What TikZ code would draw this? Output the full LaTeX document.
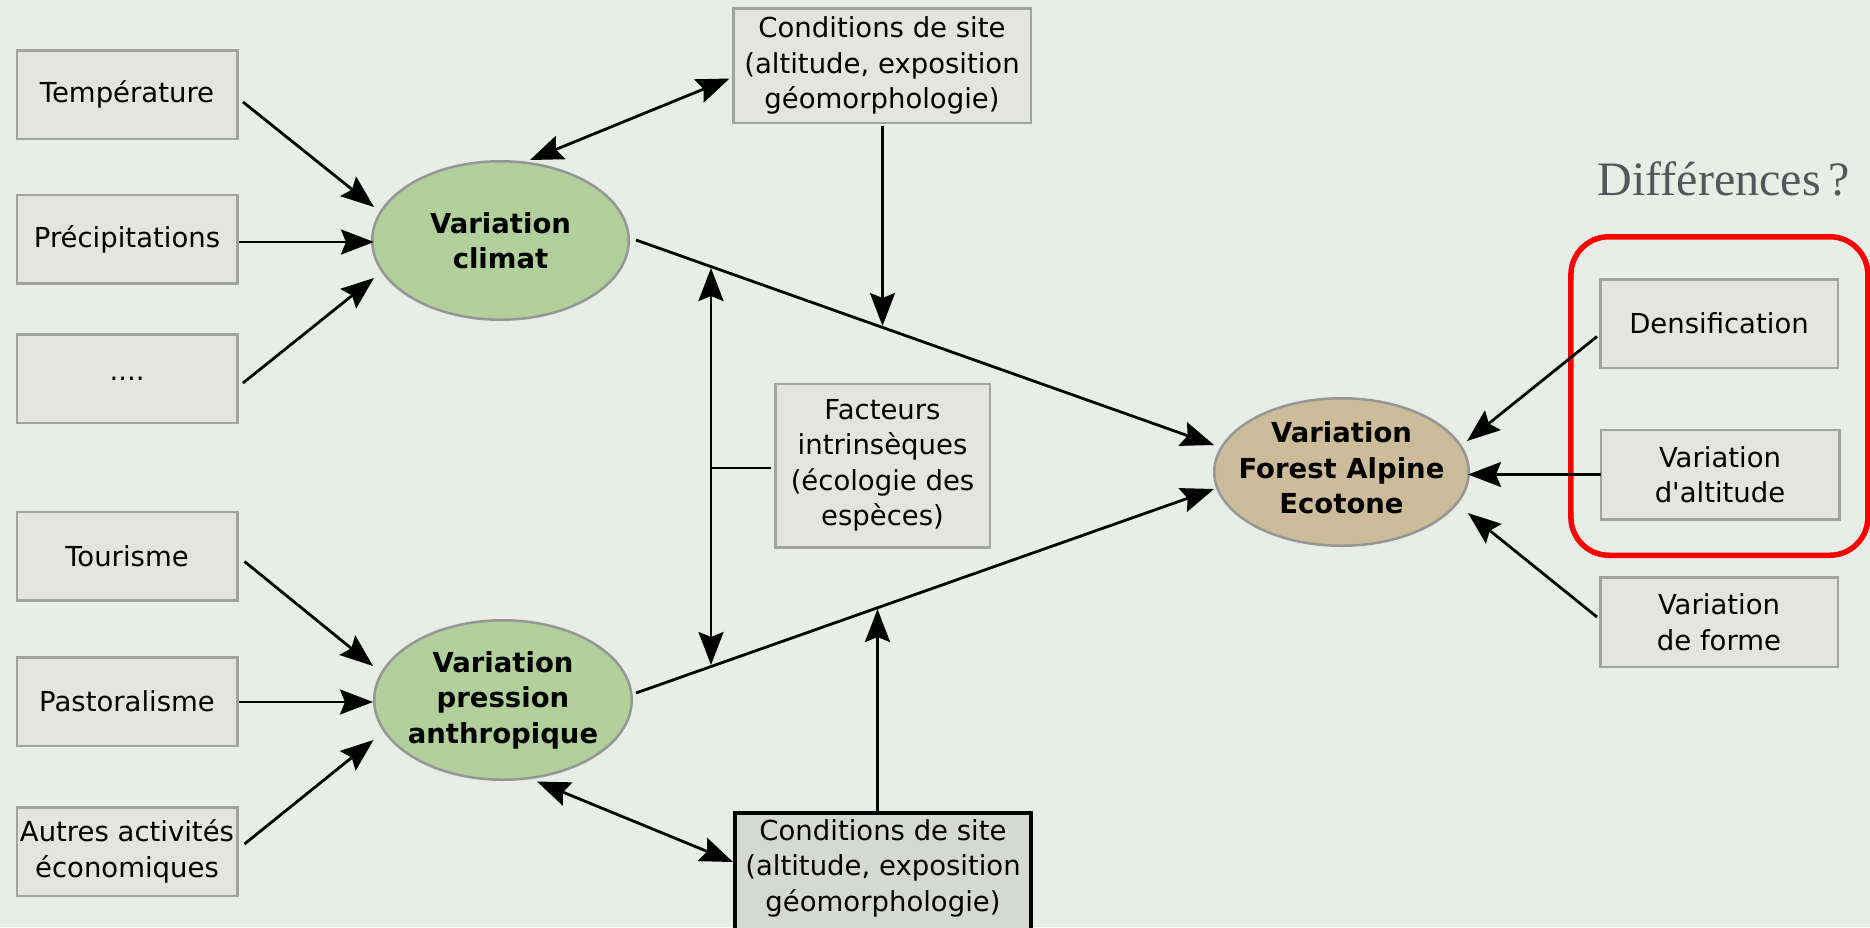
\documentclass[tikz,border=0pt]{standalone}
\usepackage{fontspec}
\setmainfont{DejaVu Sans}[Ligatures=TeXOff]
\newfontfamily\diffont{Liberation Serif}
\usetikzlibrary{arrows.meta,calc,shapes.geometric}
\definecolor{bg}{RGB}{232,237,231}
\definecolor{boxfill}{RGB}{228,229,224}
\definecolor{boxline}{RGB}{162,162,162}
\definecolor{greenfill}{RGB}{177,208,156}
\definecolor{tanfill}{RGB}{205,188,154}
\definecolor{ellline}{RGB}{150,150,150}
\definecolor{difftext}{RGB}{85,85,90}
\definecolor{darkbox}{RGB}{214,216,212}
\definecolor{framered}{RGB}{255,0,0}
\begin{document}
\begin{tikzpicture}[x=1pt,y=-1pt,
  every node/.style={font=\fontsize{27.5}{35.5}\selectfont, align=center, inner sep=0pt},
  box/.style={rectangle, draw=boxline, fill=boxfill, line width=2.5pt, minimum width=220.5pt, minimum height=88.5pt},
  ell/.style={ellipse, draw=ellline, line width=2.5pt},
  elltext/.style={font=\fontsize{27.5}{35.5}\selectfont\bfseries},
  tip/.tip={Stealth[length=33pt,width=25pt,inset=5pt]},
  arr/.style={-tip, line width=2.8pt},
  darr/.style={tip-tip, line width=2.8pt},
  plain/.style={line width=2.8pt},
]
\fill[bg] (0,0) rectangle (1870,927);
\useasboundingbox (0,0) rectangle (1870,927);

% frame
\node[draw=framered, line width=5.5pt, rounded corners=38pt, minimum width=297pt, minimum height=318.5pt] (frame) at (1719.4,396) {};
\node[font=\diffont\fontsize{48}{58}\selectfont, text=difftext] (diff) at (1724,179) {Différences\,?};

% left boxes
\node[box] (temp) at (127,94.5) {Température};
\node[box] (prec) at (127,239) {Précipitations};
\node[box] (dots) at (127,378.5) {....};
\node[box] (tour) at (127,556) {Tourisme};
\node[box] (past) at (127,701.5) {Pastoralisme};
\node[box] (autr) at (127,851.5) {Autres activités\\économiques};

% ellipses
\node[ell, fill=greenfill, minimum width=256.5pt, minimum height=158.5pt,
  label={[elltext]center:{Variation\\climat}}] (climat) at (500.5,240.5) {};
\node[ell, fill=greenfill, minimum width=257.5pt, minimum height=159.5pt,
  label={[elltext]center:{Variation\\pression\\anthropique}}] (pression) at (503,700) {};
\node[ell, fill=tanfill, minimum width=254.5pt, minimum height=147.5pt,
  label={[elltext,yshift=4pt]center:{Variation\\Forest Alpine\\Ecotone}}] (ecotone) at (1341.5,472) {};

% middle boxes
\node[box, minimum width=297.5pt, minimum height=114.5pt] (condtop) at (882,65.5) {Conditions de site\\(altitude, exposition\\géomorphologie)};
\node[box, minimum width=214.5pt, minimum height=163.5pt] (facteurs) at (882.5,465.5) {Facteurs\\intrinsèques\\(écologie des\\espèces)};
\node[rectangle, draw=black, fill=darkbox, line width=4pt, minimum width=296pt, minimum height=130pt,
  label={[yshift=10pt]center:{Conditions de site\\(altitude, exposition\\géomorphologie)}}] (condbot) at (883,878) {};

% right boxes
\node[box, minimum width=237.5pt] (dens) at (1719,323.5) {Densification};
\node[box, minimum width=238.5pt, minimum height=89.5pt] (alt) at (1720,474.5) {Variation\\d'altitude};
\node[box, minimum width=237.5pt, minimum height=89.5pt] (forme) at (1719,622) {Variation\\de forme};

% junction points
\coordinate (j1) at (882.5,326);
\coordinate (j2) at (711,268);
\coordinate (j3) at (711,665);
\coordinate (j4) at (877.5,609);
\coordinate (j5) at (711,468);

% connectors
\draw[arr] ($(temp)+(116,7.5)$) -- ($(climat)+(-126.5,-33.5)$);
\draw[arr] ($(prec)+(112,3)$) -- ($(climat)+(-126.5,1.5)$);
\draw[arr] ($(dots)+(116,4.5)$) -- ($(climat)+(-126.5,37.5)$);
\draw[darr] ($(climat)+(29.5,-80.5)$) -- ($(condtop)+(-152.5,13)$);
\draw[arr] ($(condtop)+(0.5,60.5)$) -- (j1);
\draw[arr] ($(climat)+(135.5,-0.5)$) -- ($(ecotone)+(-127.5,-27)$);
\draw[arr] ($(pression)+(133,-7)$) -- ($(ecotone)+(-127.5,17)$);
\draw[darr] (j2) -- (j3);
\draw[plain] ($(facteurs)+(-112,2.5)$) -- (j5);
\draw[arr] ($(condbot)+(-5.5,-67)$) -- (j4);
\draw[darr] ($(pression)+(34,81.5)$) -- ($(condbot)+(-150,-16)$);
\draw[arr] ($(tour)+(117.5,5.5)$) -- ($(pression)+(-130,-34)$);
\draw[arr] ($(past)+(112,0.5)$) -- ($(pression)+(-130,2)$);
\draw[arr] ($(autr)+(117.5,-7.5)$) -- ($(pression)+(-129.5,40)$);
\draw[arr] ($(dens)+(-122,13)$) -- ($(ecotone)+(125.5,-31)$);
\draw[arr] ($(alt)+(-119,0)$) -- ($(ecotone)+(126.5,2.5)$);
\draw[arr] ($(forme)+(-122,-5)$) -- ($(ecotone)+(126.5,41)$);
\end{tikzpicture}
\end{document}
